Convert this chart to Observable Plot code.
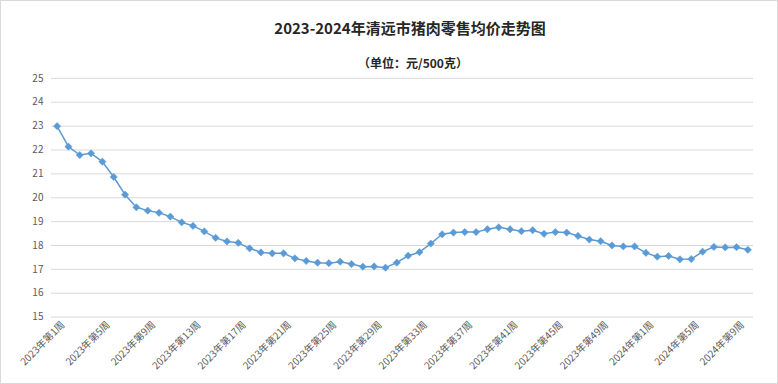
<!DOCTYPE html>
<html>
<head>
<meta charset="utf-8">
<script src="https://cdn.jsdelivr.net/npm/d3@7"></script>
<script src="https://cdn.jsdelivr.net/npm/@observablehq/plot@0.6"></script>
<style>
  html, body { margin: 0; padding: 0; background: #fff; }
  #wrap { position: relative; width: 776px; height: 382px; border: 1px solid #d9d9d9; background: #fff; overflow: hidden; }
  #title { position: absolute; left: 0; width: 818px; top: 16px; text-align: center; font: bold 15px "Noto Sans CJK SC", sans-serif; color: #262626; }
  #subtitle { position: absolute; left: 0; width: 824px; top: 53px; text-align: center; font: bold 12px "Noto Sans CJK SC", sans-serif; color: #262626; }
  #chart { position: absolute; left: -1px; top: -1px; }
</style>
</head>
<body>
<div id="wrap">
  <div id="chart"></div>
  <div id="title">2023-2024年清远市猪肉零售均价走势图</div>
  <div id="subtitle">（单位：元/500克）</div>
</div>
<script>
const weeks2023 = 52;
const weeks2024 = 10;
const categories = [];
for (let w = 1; w <= weeks2023; w++) categories.push(`2023年第${w}周`);
for (let w = 1; w <= weeks2024; w++) categories.push(`2024年第${w}周`);

const prices = [
  23.00, 22.14, 21.79, 21.86, 21.51, 20.87, 20.13, 19.60, 19.46, 19.37,
  19.21, 18.97, 18.82, 18.59, 18.32, 18.17, 18.11, 17.88, 17.71, 17.67,
  17.67, 17.46, 17.35, 17.28, 17.26, 17.32, 17.22, 17.11, 17.12, 17.07,
  17.28, 17.57, 17.72, 18.08, 18.47, 18.54, 18.56, 18.56, 18.68, 18.76,
  18.68, 18.60, 18.64, 18.49, 18.56, 18.54, 18.40, 18.25, 18.18, 18.00,
  17.96, 17.96, 17.69, 17.53, 17.56, 17.42, 17.43, 17.74, 17.94, 17.92,
  17.93, 17.82
];

const tickLabels = [
  "2023年第1周", "2023年第5周", "2023年第9周", "2023年第13周", "2023年第17周",
  "2023年第21周", "2023年第25周", "2023年第29周", "2023年第33周", "2023年第37周",
  "2023年第41周", "2023年第45周", "2023年第49周", "2024年第1周", "2024年第5周",
  "2024年第9周"
];
const yTicks = [15, 16, 17, 18, 19, 20, 21, 22, 23, 24, 25];

const data = categories.map((c, i) => ({week: c, price: prices[i]}));
const color = "#5B9BD5";

const chart = Plot.plot({
  width: 778,
  height: 384,
  marginLeft: 51,
  marginRight: 24,
  marginTop: 78,
  marginBottom: 67,
  style: {fontFamily: "'Noto Sans CJK SC', sans-serif", fontSize: "10px", color: "#595959", background: "transparent"},
  x: {type: "point", domain: categories, padding: 0.5, round: false, label: null},
  y: {domain: [15, 25], label: null},
  marks: [
    Plot.gridY(yTicks, {stroke: "#d9d9d9", strokeOpacity: 1, strokeWidth: 1}),
    Plot.axisY(yTicks, {tickSize: 0, tickPadding: 8, label: null, tickFormat: d => String(d), fill: "#595959"}),
    Plot.axisX(tickLabels, {tickSize: 0, tickPadding: 6, tickRotate: -45, dx: 6, label: null, fill: "#595959"}),
    Plot.line(data, {x: "week", y: "price", stroke: color, strokeWidth: 1.5}),
    Plot.dot(data, {x: "week", y: "price", symbol: "square", rotate: 45, r: 2.9, fill: color, stroke: color, strokeWidth: 0.5})
  ]
});
document.getElementById("chart").appendChild(chart);
</script>
</body>
</html>
